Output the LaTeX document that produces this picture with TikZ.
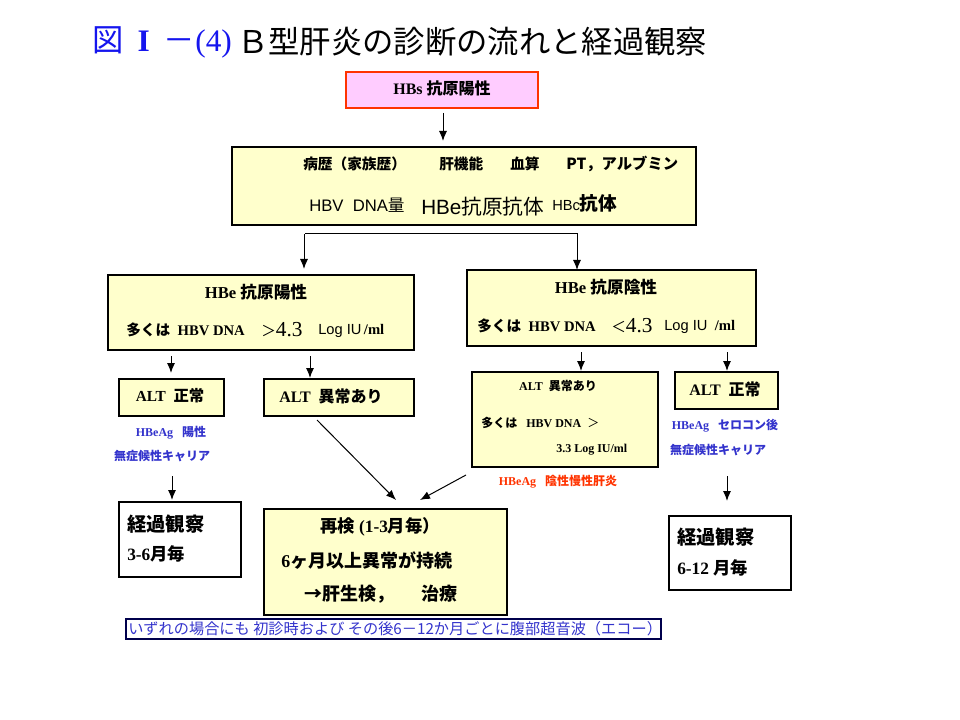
\documentclass[tikz,border=0pt]{standalone}
\usepackage{fontspec}
\setmainfont{Liberation Serif}
\setsansfont{Liberation Sans}
\newfontfamily\cjk{Noto Sans CJK JP}
\usetikzlibrary{arrows.meta,fit}
\definecolor{byellow}{HTML}{FFFFCC}
\definecolor{bpink}{HTML}{FFCCFF}
\definecolor{bred}{HTML}{FF3300}
\definecolor{tblue}{HTML}{3333CC}
\definecolor{ttblue}{HTML}{1515EE}
\newcommand\J[1]{{\cjk #1}}
\newcommand\fs[1]{\fontsize{#1}{#1}\selectfont}
\begin{document}
\begin{tikzpicture}[x=0.75pt,y=-0.75pt,
 box/.style={draw=black,line width=1.1pt,fill=byellow,inner sep=0pt},
 wbox/.style={draw=black,line width=1.1pt,fill=white,inner sep=0pt},
 txt/.style={inner sep=0pt},
 arr/.style={line width=0.75pt,-{Latex[length=7.5pt,width=6pt]}},
 ln/.style={line width=0.75pt}]
\useasboundingbox (0,0) rectangle (960,720);

% title
\node[txt,anchor=west,text=ttblue] (t1) at (92,42) {\fs{23.5}\J{図}\hspace{0.45em}\textbf{I}\hspace{0.45em}\J{－}(4)};
\node[txt,anchor=west] (t2) at (237,42) {\fs{23.5}\J{Ｂ型肝炎の診断の流れと経過観察}};

% boxes
\node[box,fill=bpink,draw=bred,fit={(346,72) (538,108)}] (hbs) {};
\node[box,fit={(232,147) (696,225)}] (big) {};
\node[box,fit={(108,275) (414,350)}] (pos) {};
\node[box,fit={(467,270) (756,346)}] (neg) {};
\node[box,fit={(119,379) (224,416)}] (altnL) {};
\node[box,fit={(264,379) (414,416)}] (altaL) {};
\node[box,fit={(472,372) (658,467)}] (altaR) {};
\node[box,fit={(675,372) (778,409)}] (altnR) {};
\node[wbox,fit={(119,502) (241,577)}] (obsL) {};
\node[box,fit={(264,509) (507,615)}] (re) {};
\node[wbox,fit={(669,516) (791,590)}] (obsR) {};
\node[wbox,draw=black!70!blue,line width=0.9pt,fit={(126,619) (661,639)}] (note) {};

% texts
\node[txt] (hbsT) at (442,88) {\fs{12}\textbf{HBs} \J{\bfseries 抗原陽性}};

\node[txt,anchor=west] (b1) at (303,164) {\fs{11}\J{\bfseries 病歴（家族歴）}};
\node[txt,anchor=west] (b2) at (439,164) {\fs{11}\J{\bfseries 肝機能}};
\node[txt,anchor=west] (b3) at (510,164) {\fs{11}\J{\bfseries 血算}};
\node[txt,anchor=west] (b4) at (566,164) {\fs{11.5}\J{\bfseries PT，アルブミン}};
\node[txt,anchor=west] (b5) at (309,205) {\fs{12.5}\textsf{HBV\ \ DNA}\J{量}};
\node[txt,anchor=west] (b6) at (421,207) {\fs{15.5}\textsf{HBe}\J{抗原抗体}};
\node[txt,anchor=west] (b7) at (552,203) {\fs{11}\textsf{HBc}\fs{14}\J{\bfseries 抗体}};

\node[txt] (posT1) at (256,292) {\fs{12.5}\textbf{HBe} \J{\bfseries 抗原陽性}};
\node[txt,anchor=west] (posT2a) at (126,330) {\fs{11}\J{\bfseries 多くは}\ \ \textbf{HBV DNA}};
\node[txt,anchor=west] (posT2b) at (261,330) {\fs{11}\J{＞}\fs{16}4.3};
\node[txt,anchor=west] (posT2c) at (318,331) {\fs{11}\textsf{Log IU}\,\textbf{/ml}};
\node[txt] (negT1) at (606,287) {\fs{12.5}\textbf{HBe} \J{\bfseries 抗原陰性}};
\node[txt,anchor=west] (negT2a) at (477,326) {\fs{11}\J{\bfseries 多くは}\ \ \textbf{HBV DNA}};
\node[txt,anchor=west] (negT2b) at (611,326) {\fs{11}\J{＜}\fs{16}4.3};
\node[txt,anchor=west] (negT2c) at (664,327) {\fs{11}\textsf{Log IU}\ \ \textbf{/ml}};

\node[txt] (altnLT) at (170,396) {\fs{11.5}\textbf{ALT}\ \ \J{\bfseries 正常}};
\node[txt] (altaLT) at (331,396) {\fs{12}\textbf{ALT}\ \ \J{\bfseries 異常あり}};
\node[txt] (altaRT1) at (558,386) {\fs{9}\textbf{ALT}\ \ \J{\bfseries 異常あり}};
\node[txt,anchor=west] (altaRT2) at (481,423) {\fs{9}\J{\bfseries 多くは}\ \ \ \textbf{HBV\ DNA}\ \ \J{＞}};
\node[txt,anchor=west] (altaRT3) at (556,450) {\fs{9}\textbf{3.3 Log IU/ml}};
\node[txt] (altnRT) at (725,389) {\fs{12}\textbf{ALT}\ \ \J{\bfseries 正常}};

\node[txt,text=tblue] (bl1) at (171,433) {\fs{9}\textbf{HBeAg}\ \ \ \J{\bfseries 陽性}};
\node[txt,text=tblue] (bl2) at (162,456) {\fs{9}\J{\bfseries 無症候性キャリア}};
\node[txt,text=tblue] (br1) at (725,426) {\fs{9}\textbf{HBeAg}\ \ \ \J{\bfseries セロコン後}};
\node[txt,text=tblue] (br2) at (718,450) {\fs{9}\J{\bfseries 無症候性キャリア}};
\node[txt,text=bred] (red) at (558,482) {\fs{9}\textbf{HBeAg}\ \ \ \J{\bfseries 陰性慢性肝炎}};

\node[txt,anchor=west] (obsL1) at (127,524) {\fs{14.5}\J{\bfseries 経過観察}};
\node[txt,anchor=west] (obsL2) at (127,554) {\fs{13}\textbf{3-6}\J{\bfseries 月毎}};
\node[txt,anchor=west] (obsR1) at (677,537) {\fs{14.5}\J{\bfseries 経過観察}};
\node[txt,anchor=west] (obsR2) at (677,568) {\fs{13}\textbf{6-12}\ \J{\bfseries 月毎}};

\node[txt] (re1) at (380,527) {\fs{13}\J{\bfseries 再検}\ \textbf{(1-3}\J{\bfseries 月毎）}};
\node[txt,anchor=west] (re2) at (281,561) {\fs{13.5}\textbf{6}\J{\bfseries ヶ月以上異常が持続}};
\node[txt,anchor=west] (re3) at (304,594) {\fs{13.5}\J{\bfseries →肝生検，\hspace{1.5em}治療}};

\node[txt,anchor=west,text=tblue] (noteT) at (128,629) {\fs{11.4}\J{いずれの場合にも 初診時および その後6－12か月ごとに腹部超音波（エコー）}};

% connectors
\coordinate (h1) at (443,113); \coordinate (h2) at (443,141);
\draw[arr] (h1) -- (h2);
\coordinate (j1) at (305,234);
\coordinate (j2) at (578,234);
\coordinate (k1) at (304,269); \coordinate (k2) at (577,270);
\draw[ln] (j1) -- (j2);
\draw[arr] (304,234) -- (k1);
\draw[arr] (577,234) -- (k2);
\coordinate (p1) at (171,356); \coordinate (p2) at (310,356);
\coordinate (p1e) at (171,373); \coordinate (p2e) at (310,378);
\coordinate (n1) at (581,352); \coordinate (n2) at (727,352);
\coordinate (n1e) at (581,371); \coordinate (n2e) at (727,371);
\draw[arr] (p1) -- (p1e);
\draw[arr] (p2) -- (p2e);
\draw[arr] (n1) -- (n1e);
\draw[arr] (n2) -- (n2e);
\coordinate (q1) at (172,476); \coordinate (q2) at (727,476);
\coordinate (q1e) at (172,500); \coordinate (q2e) at (727,501);
\draw[arr] (q1) -- (q1e);
\draw[arr] (q2) -- (q2e);
\coordinate (d1) at (317,420); \coordinate (d2) at (466,475);
\coordinate (d1e) at (396,500); \coordinate (d2e) at (420,500);
\draw[arr] (d1) -- (d1e);
\draw[arr] (d2) -- (d2e);
\end{tikzpicture}
\end{document}
